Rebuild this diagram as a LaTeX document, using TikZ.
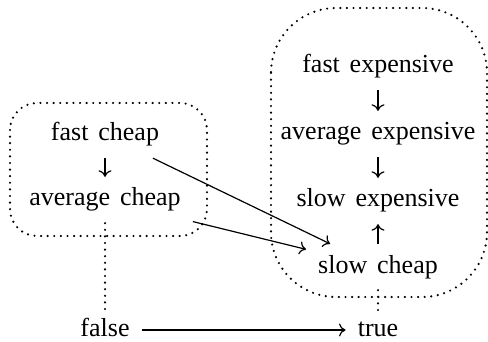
\documentclass[tikz,border=0pt]{standalone}
\usepackage{fontspec}
\setmainfont{Liberation Serif}
\usetikzlibrary{arrows.meta}
\newcommand\ws{\hspace{0.38em}}
\begin{document}
\begin{tikzpicture}[x=1pt,y=-1pt,
  lbl/.style={anchor=base,inner sep=12pt,text height=17pt,text depth=5pt,
    font=\fontsize{26}{30}\selectfont},
  arr/.style={line width=1.2pt,-{Computer Modern Rightarrow[length=6.5pt,width=13pt]}},
  dotline/.style={line width=2.4pt,line cap=round,dash pattern=on 0pt off 6.6pt},
  grp/.style={dotline}]
\useasboundingbox (0,0) rectangle (488,342);
\node[lbl] (fc) at (105,141) {fast\ws cheap};
\node[lbl] (ac) at (105,206) {average\ws cheap};
\node[lbl] (fe) at (378,73) {fast\ws expensive};
\node[lbl] (ae) at (378,140) {average\ws expensive};
\node[lbl] (se) at (378,207) {slow\ws expensive};
\node[lbl] (sc) at (378,273) {slow\ws cheap};
\node[lbl,text depth=3pt,inner ysep=2pt] (f) at (105,337) {false};
\node[lbl,text depth=3pt,inner ysep=2pt] (t) at (378,337) {true};
\draw[grp,rounded corners=27pt] (10,103) rectangle (207,236);
\draw[grp,rounded corners=65pt] (271,8) rectangle (487,297);
\draw[arr] (fc) -- (ac);
\draw[arr] (fe) -- (ae);
\draw[arr] (ae) -- (se);
\draw[arr] (sc) -- (se);
\draw[arr] (fc) -- (sc);
\draw[arr] (ac) -- (sc);
\draw[arr] (f) -- (t);
\draw[dotline] (ac) -- ([yshift=8pt]f.north);
\draw[dotline] (sc) -- ([yshift=6pt]t.north);
\end{tikzpicture}
\end{document}
